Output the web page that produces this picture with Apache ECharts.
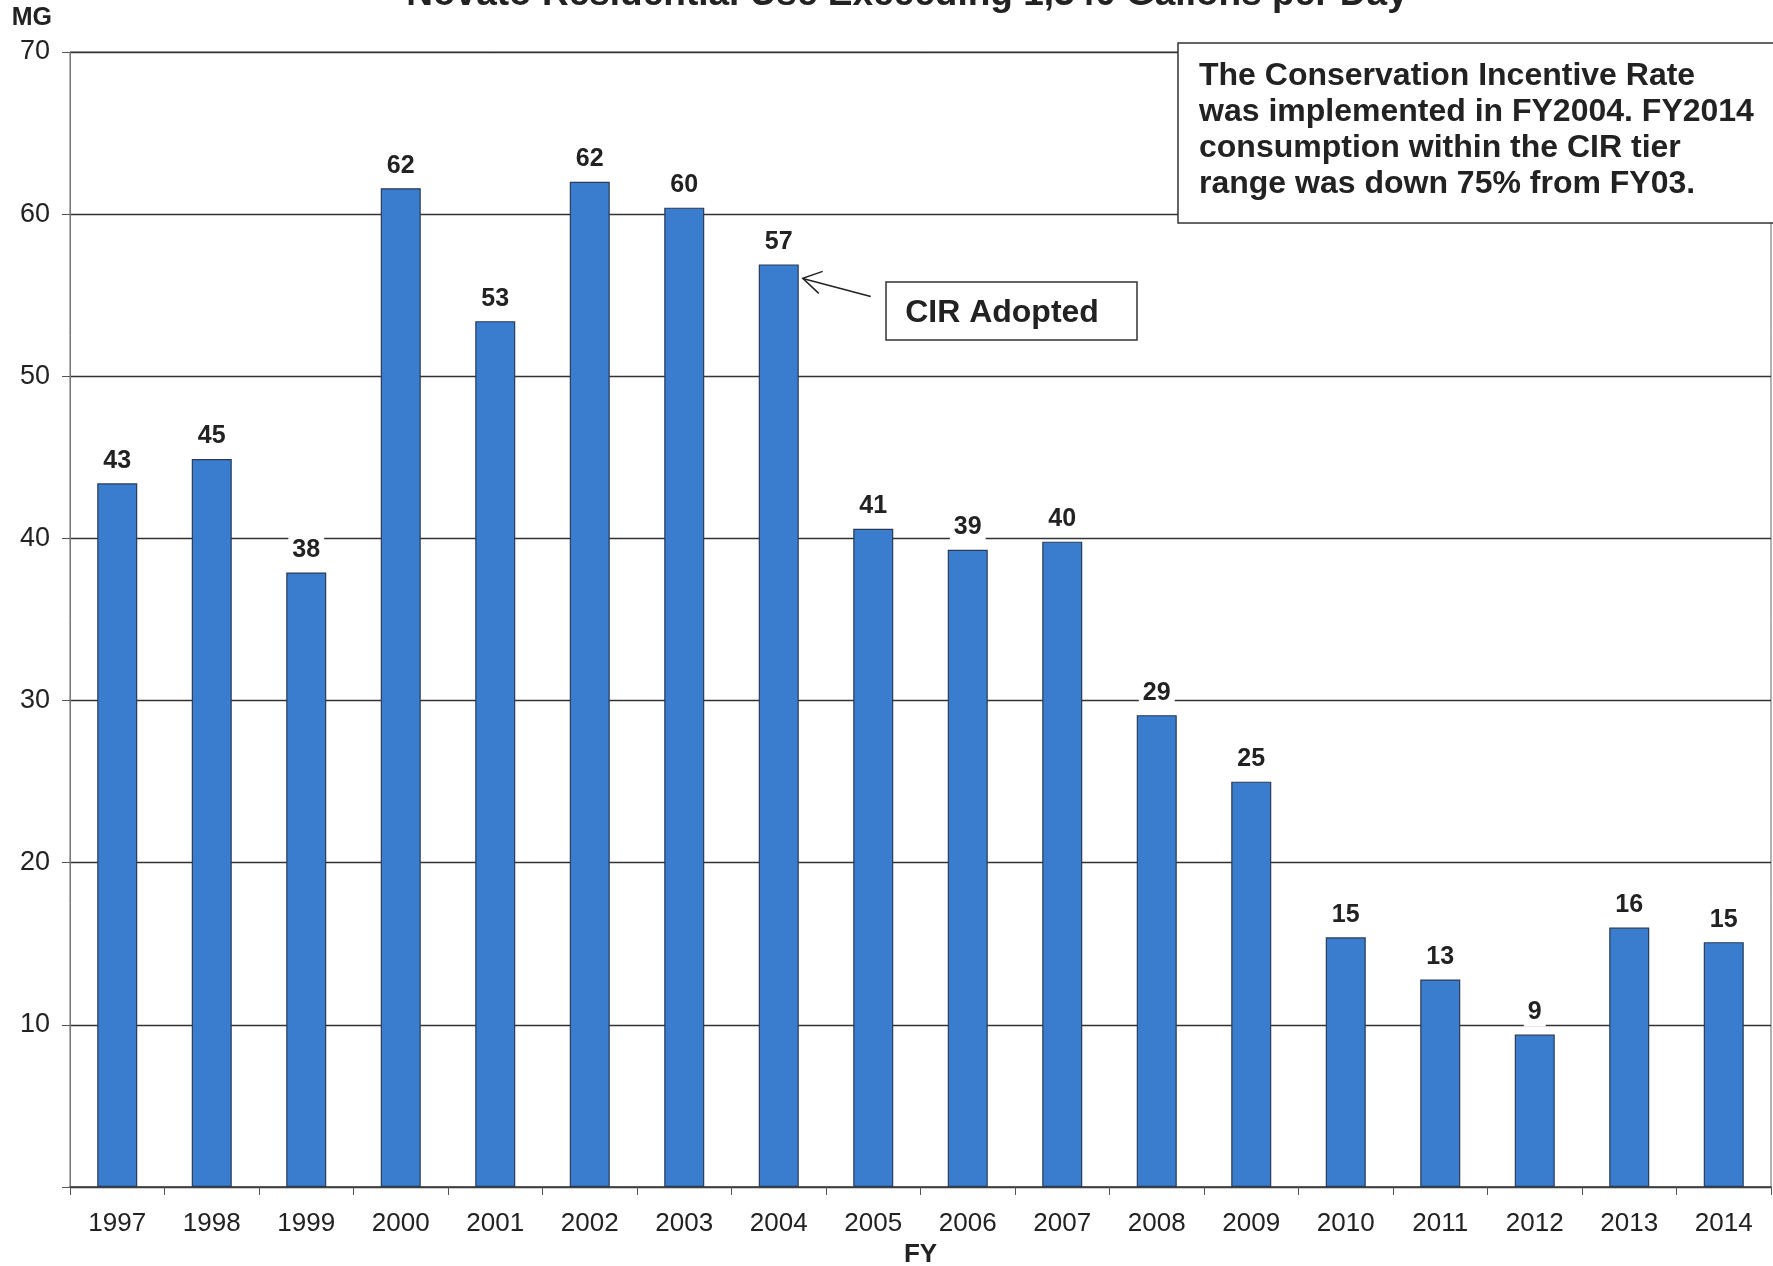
<!DOCTYPE html>
<html>
<head>
<meta charset="utf-8">
<script src="https://cdn.jsdelivr.net/npm/echarts@6/dist/echarts.min.js"></script>
<style>
  html, body { margin: 0; padding: 0; background: #fff; }
  #chart { width: 1773px; height: 1266px; }
</style>
</head>
<body>
<div id="chart"></div>
<script>
// Fiscal years on the category axis
const years = ['1997', '1998', '1999', '2000', '2001', '2002', '2003', '2004', '2005',
               '2006', '2007', '2008', '2009', '2010', '2011', '2012', '2013', '2014'];
// Residential use in the CIR tier range, million gallons
const usageMG = [43.4, 44.9, 37.9, 61.6, 53.4, 62.0, 60.4, 56.9, 40.6,
                 39.3, 39.8, 29.1, 25.0, 15.4, 12.8, 9.4, 16.0, 15.1];
// Value-axis ticks
const yMin = 0, yMax = 70, yStep = 10;

const titleText = 'Novato Residential Use Exceeding 1,340 Gallons per Day';
const noteText = 'The Conservation Incentive Rate\nwas implemented in FY2004. FY2014\nconsumption within the CIR tier\nrange was down 75% from FY03.';
const calloutText = 'CIR Adopted';
const adoptedYear = '2004';

const FONT = '"Liberation Sans", Arial, sans-serif';

const chart = echarts.init(document.getElementById('chart'), null, { renderer: 'canvas' });

const option = {
  backgroundColor: '#ffffff',
  animation: false,
  grid: { left: 70, right: 2, top: 52, bottom: 79, containLabel: false,
          outerBoundsMode: 'none',
          show: true, borderColor: '#666', borderWidth: 1 },
  xAxis: {
    type: 'category',
    data: years,
    name: 'FY',
    nameLocation: 'middle',
    nameGap: 67,
    nameTextStyle: { fontFamily: FONT, fontWeight: 'bold', fontSize: 26, color: '#222', verticalAlign: 'middle' },
    axisLine: { lineStyle: { color: '#444', width: 1.5 } },
    axisTick: { show: true, alignWithLabel: false, length: 8, lineStyle: { color: '#555' } },
    axisLabel: { fontFamily: FONT, fontSize: 26, color: '#222', margin: 24 },
    splitLine: { show: false }
  },
  yAxis: {
    type: 'value',
    min: yMin, max: yMax, interval: yStep,
    name: 'MG',
    nameLocation: 'end',
    nameGap: 34,
    nameTextStyle: { fontFamily: FONT, fontWeight: 'bold', fontSize: 25, color: '#222',
                     align: 'right', verticalAlign: 'middle', padding: [0, 18, 0, 0] },
    axisLine: { show: true, lineStyle: { color: '#777', width: 1 } },
    axisTick: { show: true, length: 8, lineStyle: { color: '#555' } },
    axisLabel: { fontFamily: FONT, fontSize: 27, color: '#222', margin: 20,
                 formatter: v => (v === 0 ? '' : String(v)) },
    splitLine: { show: true, lineStyle: { color: '#333', width: 1.3 } }
  },
  series: [{
    type: 'bar',
    data: usageMG,
    barWidth: 40,
    itemStyle: { color: '#3a7dcf', borderColor: '#2a3b55', borderWidth: 1.2 },
    label: {
      show: true,
      position: 'top',
      distance: 8,
      fontFamily: FONT, fontWeight: 'bold', fontSize: 25, color: '#222',
      backgroundColor: '#fff', padding: [2, 4],
      formatter: p => String(Math.round(p.value))
    }
  }]
};

chart.setOption(option);

// Annotations: title, note box and the CIR callout with its arrow pointing at the 2004 bar
const idx = years.indexOf(adoptedYear);
const tip = chart.convertToPixel({ seriesIndex: 0 }, [adoptedYear, usageMG[idx]]);
const tipX = tip[0] + 24, tipY = tip[1] + 14;
const tailX = tipX + 68, tailY = tipY + 18;

chart.setOption({
  graphic: [
    {
      type: 'text', x: 907, y: -24, z: 10,
      style: { text: titleText, font: 'bold 37px ' + FONT, fill: '#222', textAlign: 'center' }
    },
    {
      type: 'group', z: 10,
      children: [
        { type: 'rect', shape: { x: 1178, y: 43, width: 620, height: 180 },
          style: { fill: '#fff', stroke: '#333', lineWidth: 1.5 } },
        { type: 'text', x: 1199, y: 58,
          style: { text: noteText, font: 'bold 32px ' + FONT, fill: '#222', lineHeight: 36 } }
      ]
    },
    {
      type: 'group', z: 10,
      children: [
        { type: 'rect', shape: { x: 886, y: 282, width: 251, height: 58 },
          style: { fill: '#fff', stroke: '#333', lineWidth: 1.5 } },
        { type: 'text', x: 1002, y: 313,
          style: { text: calloutText, font: 'bold 32px ' + FONT, fill: '#222',
                   textAlign: 'center', textVerticalAlign: 'middle' } },
        { type: 'polyline', shape: { points: [[tailX, tailY], [tipX, tipY]] },
          style: { stroke: '#222', lineWidth: 1.5, fill: null } },
        { type: 'polyline', shape: { points: [[tipX + 20, tipY - 7], [tipX, tipY], [tipX + 16, tipY + 15]] },
          style: { stroke: '#222', lineWidth: 1.5, fill: null } }
      ]
    }
  ]
});
</script>
</body>
</html>
